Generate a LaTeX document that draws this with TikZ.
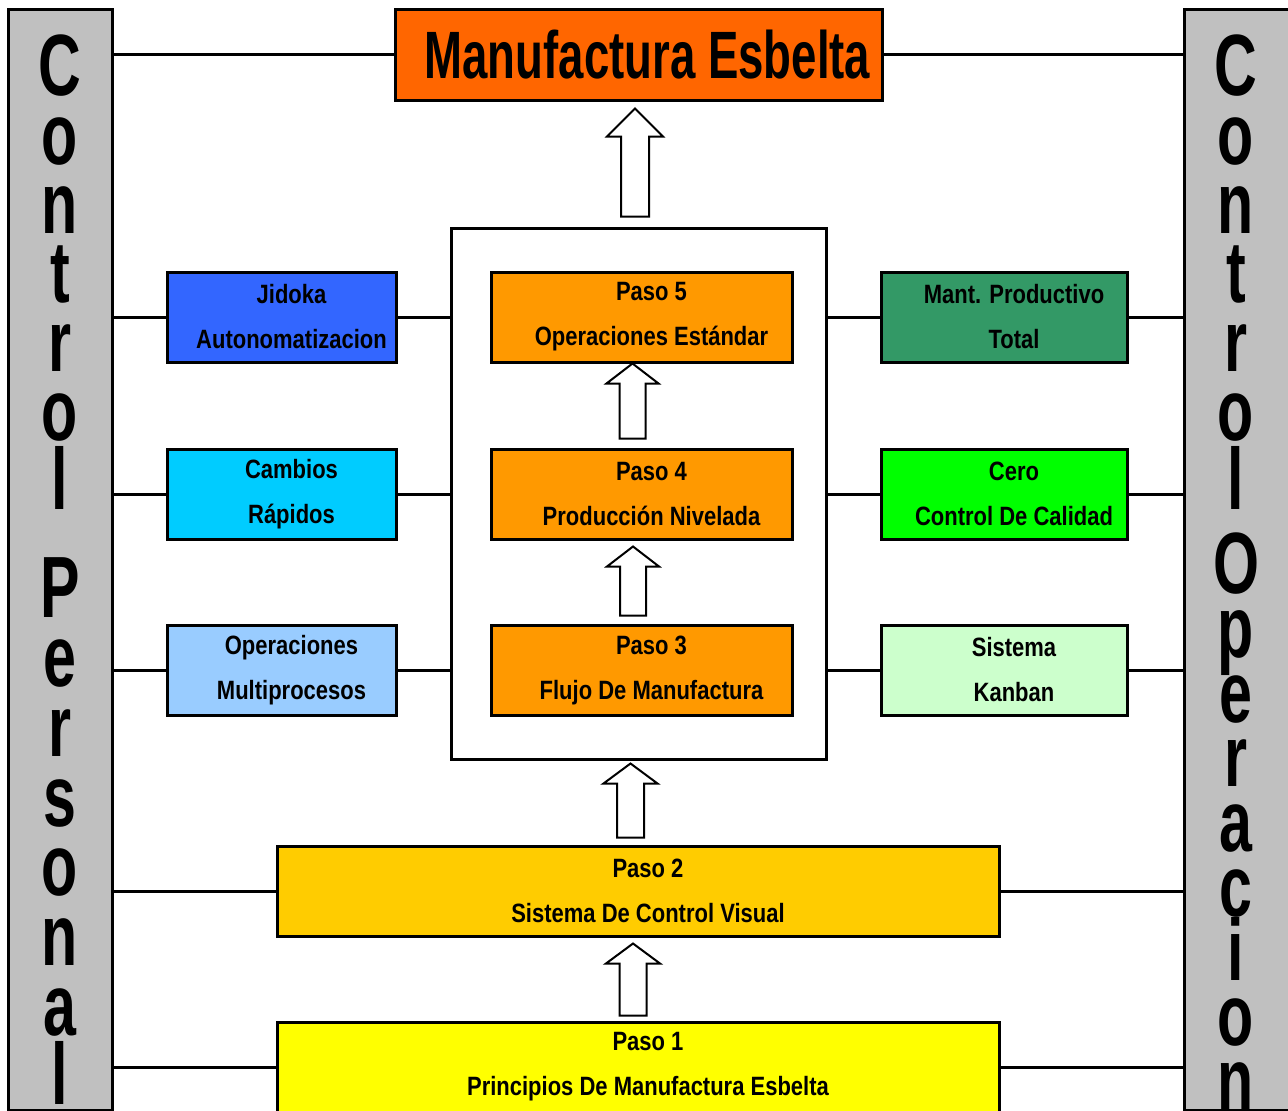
\documentclass[tikz,border=0pt]{standalone}
\usepackage{fontspec}
\setmainfont{Liberation Sans}[FakeStretch=0.83]
\newfontfamily\titlefont{Liberation Sans}[FakeStretch=0.68]
\newfontfamily\barfont{Liberation Sans}[FakeStretch=0.68]
\usepackage{tikz}
\usetikzlibrary{calc}
\definecolor{lean}{HTML}{FF6600}
\definecolor{barfill}{HTML}{C0C0C0}
\definecolor{pasoA}{HTML}{FF9900}
\definecolor{pasoB}{HTML}{FFCC00}
\definecolor{pasoC}{HTML}{FFFF00}
\definecolor{jidoka}{HTML}{3366FF}
\definecolor{cambios}{HTML}{00CCFF}
\definecolor{multi}{HTML}{99CCFF}
\definecolor{tpm}{HTML}{339966}
\definecolor{cero}{HTML}{00FF00}
\definecolor{kanban}{HTML}{CCFFCC}
% hollow block arrow: bottom point, tip point, head length, half shaft width
\newcommand{\hollowup}[4]{%
  \draw[hollow] let \p1=(#1), \p2=(#2) in
    (\x1-#4pt,\y1) -- (\x1-#4pt,\y2-#3pt) -- (\x1-2*#4pt,\y2-#3pt) -- (\x1,\y2)
    -- (\x1+2*#4pt,\y2-#3pt) -- (\x1+#4pt,\y2-#3pt) -- (\x1+#4pt,\y1) -- cycle;}

\begin{document}
\begin{tikzpicture}[x=1pt,y=-1pt,
  box/.style={draw,line width=3pt,inner sep=0pt,minimum height=90pt},
  tag/.style={label={[align=center,xshift=10pt,font=\bfseries\fontsize{26.5}{45}\selectfont]center:{#1}}},
  link/.style={line width=3pt},
  hollow/.style={draw,fill=white,line width=2pt,line join=miter},
  bar/.style={draw,line width=3pt,fill=barfill,minimum width=104pt,minimum height=1101pt},
  barchar/.style={anchor=base,inner sep=0pt,font=\barfont\bfseries\fontsize{87}{87}\selectfont}]
\path[use as bounding box,clip] (0,0) rectangle (1288,1111);

% side bars
\node[bar] (lbar) at (60,559.5) {};
\node[bar,minimum width=106pt] (rbar) at (1237,559.5) {};
\foreach \ch [count=\k] in {C,o,n,t,r,o,l}{
  \node[barchar] (lc\k) at (60,{95+69*(\k-1)}) {\ch};
  \node[barchar] (rc\k) at (1236,{95+69*(\k-1)}) {\ch};
}
\foreach \ch [count=\k] in {P,e,r,s,o,n,a,l}
  \node[barchar] (lp\k) at (60,{617+69.7*(\k-1)}) {\ch};
\foreach \ch [count=\k] in {O,p,e,r,a,c,i,o,n}
  \node[barchar] (ro\k) at (1236,{593+64.6*(\k-1)}) {\ch};

% goal and frame
\node[box,fill=lean,minimum width=487pt,minimum height=91pt,
  label={[xshift=9pt,font=\titlefont\bfseries\fontsize{67}{67}\selectfont]center:Manufactura Esbelta}] (lean) at (638.5,54.5) {};
\node[draw,line width=3pt,minimum width=375pt,minimum height=531pt] (frame) at (638.5,493.5) {};

% steps
\foreach \nm/\yy/\txt in {paso5/317/{Paso 5\\Operaciones Estándar},paso4/494/{Paso 4\\Producción Nivelada},paso3/670/{Paso 3\\Flujo De Manufactura}}
  \node[box,fill=pasoA,minimum width=301pt,tag=\txt] (\nm) at (641.5,\yy) {};
\node[box,fill=pasoB,minimum width=722pt,tag={Paso 2\\Sistema De Control Visual}] (paso2) at (638,891) {};
\node[box,fill=pasoC,minimum width=722pt,tag={Paso 1\\Principios De Manufactura Esbelta}] (paso1) at (638,1067) {};

% tools
\foreach \nm/\yy/\col/\txt in {jid/317/jidoka/{Jidoka\\Autonomatizacion},cam/494/cambios/{Cambios\\Rápidos},mul/670/multi/{Operaciones\\Multiprocesos}}
  \node[box,fill=\col,minimum width=229pt,tag=\txt] (\nm) at (281.5,\yy) {};
\foreach \nm/\yy/\col/\txt in {mpt/317/tpm/{Mant. Productivo\\Total},cero/494/cero/{Cero\\Control De Calidad},kan/670/kanban/{Sistema\\Kanban}}
  \node[box,fill=\col,minimum width=246pt,tag=\txt] (\nm) at (1004,\yy) {};

% connectors
\draw[link] (lbar.east |- lean.west) -- (lean.west);
\draw[link] (lean.east) -- (rbar.west |- lean.east);
\foreach \l/\r in {jid/mpt,cam/cero,mul/kan}{
  \draw[link] (lbar.east |- \l.west) -- (\l.west);
  \draw[link] (\l.east) -- (frame.west |- \l.east);
  \draw[link] (frame.east |- \r.west) -- (\r.west);
  \draw[link] (\r.east) -- (rbar.west |- \r.east);
}
\foreach \b in {paso2,paso1}{
  \draw[link] (lbar.east |- \b.west) -- (\b.west);
  \draw[link] (\b.east) -- (rbar.west |- \b.east);
}

% arrows
\hollowup{$(frame.north)+(-3.5,-10)$}{$(lean.south)+(-3.5,7)$}{28}{14}
\hollowup{$(paso4.north)+(-9,-9)$}{$(paso5.south)+(-9,0)$}{20}{13}
\hollowup{$(paso3.north)+(-8.5,-8)$}{$(paso4.south)+(-8.5,6)$}{20}{13}
\hollowup{$(paso2.north)+(-7.5,-7)$}{$(frame.south)+(-7.5,3)$}{20}{13.5}
\hollowup{$(paso1.north)+(-5,-5)$}{$(paso2.south)+(-5,6)$}{20}{13.5}
\end{tikzpicture}
\end{document}
